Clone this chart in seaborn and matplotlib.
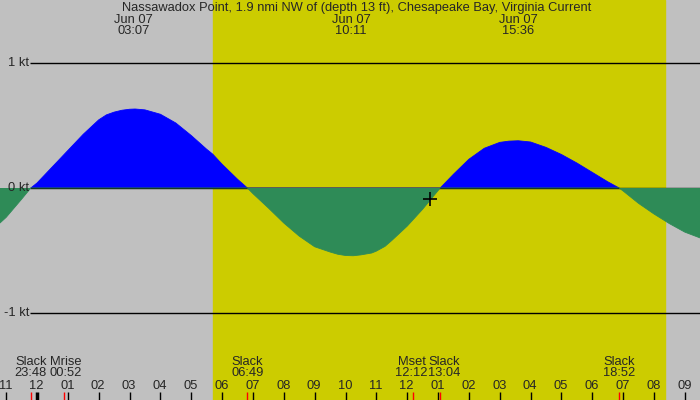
import numpy as np
import pandas as pd
import matplotlib
matplotlib.use("Agg")
import matplotlib.pyplot as plt
import seaborn as sns

# hours after midnight Jun 07 and current speed in knots
hours = [-1.2, -1.0, -0.5, -0.2, 0.0, 0.5, 1.0, 1.5, 2.0, 2.25, 2.5, 2.75, 3.0, 3.18, 3.5,
         4.0, 4.5, 5.0, 5.5, 5.7, 6.0, 6.5, 6.82,
         7.0, 7.5, 8.0, 8.5, 9.0, 9.5, 9.75, 10.0, 10.25, 10.5, 10.85, 11.0, 11.28, 11.5,
         12.0, 12.5, 13.07,
         13.5, 14.0, 14.5, 15.0, 15.3, 15.6, 16.0, 16.5, 17.0, 17.5, 18.0, 18.5, 18.87,
         19.0, 19.5, 20.0, 20.5, 21.0, 21.5]
speed = [-0.28, -0.235, -0.09, 0.0, 0.04, 0.17, 0.30, 0.43, 0.545, 0.585, 0.607, 0.622, 0.63, 0.632, 0.625,
         0.59, 0.52, 0.42, 0.31, 0.27, 0.19, 0.07, 0.0,
         -0.045, -0.16, -0.28, -0.385, -0.47, -0.512, -0.53, -0.54, -0.542, -0.535, -0.52, -0.505, -0.467, -0.42,
         -0.305, -0.17, 0.0,
         0.11, 0.23, 0.318, 0.365, 0.375, 0.378, 0.368, 0.325, 0.268, 0.2, 0.125, 0.05, 0.0,
         -0.024, -0.123, -0.208, -0.285, -0.353, -0.40]

# extremes (top labels)
ext_hours = [3.117, 10.183, 15.6]
ext_labels = ["03:07", "10:11", "15:36"]

# events (bottom labels)
ev_hours = [-0.2, 0.867, 6.817, 12.2, 13.067, 18.867]
ev_names = ["Slack", "Mrise", "Slack", "Mset", "Slack", "Slack"]
ev_times = ["23:48", "00:52", "06:49", "12:12", "13:04", "18:52"]
ev_text_x = [-0.2, 0.92, 6.82, 12.14, 13.2, 18.87]

tick_hours = list(range(-1, 22))
tick_labels = ["11", "12", "01", "02", "03", "04", "05", "06", "07", "08", "09", "10",
               "11", "12", "01", "02", "03", "04", "05", "06", "07", "08", "09"]

day_start, day_end = 5.7, 20.36
now_hour, now_speed = 12.74, -0.086

sns.set_style("white")
plt.rcParams["font.family"] = ["Liberation Sans", "DejaVu Sans"]

df = pd.DataFrame({"hour": hours, "speed": speed})
x = df["hour"].to_numpy()
v = df["speed"].to_numpy()

fig = plt.figure(figsize=(7, 4), dpi=100)
fig.patch.set_facecolor("#C0C0C0")
ax = fig.add_axes([0, 0, 1, 1])
ax.axvspan(day_start, day_end, color="#CCCC00", zorder=0)

px = 1 / 30.85  # one pixel in hours
ax.fill_between(x, 0, v, where=v >= 0, interpolate=True, color="#0000FF", lw=0, zorder=1)
for lvl in [1, 0, -1]:
    ax.hlines(lvl, -1.2 + 30 * px, 21.6, color="black", lw=1, zorder=2)
ax.fill_between(x, 0, v, where=v <= 0, interpolate=True, color="#2E8B57", lw=0, zorder=3)
sns.lineplot(data=df.assign(speed=df["speed"].where(df["speed"] >= 0)), x="hour", y="speed",
             ax=ax, color="#0000FF", lw=0.6, zorder=1)
sns.lineplot(data=df.assign(speed=df["speed"].where(df["speed"] <= 0)), x="hour", y="speed",
             ax=ax, color="#2E8B57", lw=0.6, zorder=3)

ax.plot(now_hour, now_speed, marker="+", color="black", ms=10, mew=1.2, zorder=5)

ax.set_xlim(-37 / 30.85, 663 / 30.85)
ax.set_ylim(-212 / 125, 188 / 125)
ax.axis("off")

def ypx(p):
    return (188 - p) / 125

fs = 9.3
ax.text(10.35, ypx(7.5), "Nassawadox Point, 1.9 nmi NW of (depth 13 ft), Chesapeake Bay, Virginia Current",
        ha="center", va="center", fontsize=fs)
for h, lab in zip(ext_hours, ext_labels):
    ax.text(h, ypx(20), "Jun 07", ha="center", va="center", fontsize=fs)
    ax.text(h, ypx(31.5), lab, ha="center", va="center", fontsize=fs)

for lvl, lab in zip([1, 0, -1], ["1 kt", "0 kt", "-1 kt"]):
    ax.text(-1.2 + 29 * px, lvl, lab, ha="right", va="center", fontsize=fs)

for h, n, t in zip(ev_text_x, ev_names, ev_times):
    ax.text(h, ypx(362), n, ha="center", va="center", fontsize=fs)
    ax.text(h, ypx(373.5), t, ha="center", va="center", fontsize=fs)

for h, lab in zip(tick_hours, tick_labels):
    ax.vlines(h, ypx(392), ypx(401), color="black", lw=1 if h != 0 else 2.5, zorder=4)
    ax.text(h - 0.5 * px, ypx(386), lab, ha="center", va="center", fontsize=fs)
for h in ev_hours:
    ax.vlines(h, ypx(392), ypx(401), color="red", lw=1, zorder=4)

fig.savefig("out.png", dpi=100, facecolor=fig.get_facecolor())
